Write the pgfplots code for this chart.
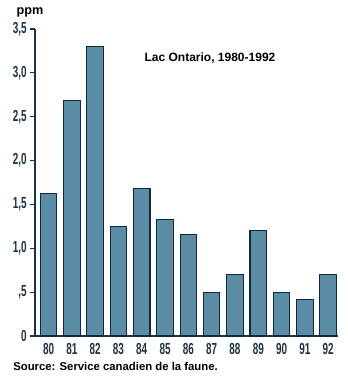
\documentclass[border=0pt]{standalone}
\usepackage{fontspec}
\setmainfont{Liberation Sans}
\newfontfamily\condfont[FakeStretch=0.62]{Liberation Sans}
\usepackage{pgfplots}
\pgfplotsset{compat=1.18}
\definecolor{barfill}{HTML}{5A8CA5}
\definecolor{bardraw}{HTML}{12293A}
\definecolor{axcol}{HTML}{1B3344}
\begin{document}
\begin{tikzpicture}
\useasboundingbox (0pt,0pt) rectangle (261pt,-284.25pt);
\begin{axis}[
  at={(26.25pt,-252pt)}, anchor=south west,
  scale only axis, width=227.25pt, height=230.25pt,
  xmin=-0.58, xmax=12.42, ymin=0, ymax=3.5,
  axis x line*=bottom, axis y line*=left,
  axis line style={axcol, line width=0.9pt, -},
  xtick={0,...,12}, xticklabels={80,81,82,83,84,85,86,87,88,89,90,91,92},
  ytick={0,0.5,1,1.5,2,2.5,3,3.5},
  yticklabels={0,{,5},{1,0},{1,5},{2,0},{2,5},{3,0},{3,5}},
  major x tick style={draw=none},
  major y tick style={axcol, line width=0.9pt},
  tick align=outside, major tick length=4pt,
  ticklabel style={font=\condfont\bfseries\fontsize{12}{13}\selectfont, text=axcol, inner sep=2pt},
  xticklabel style={yshift=1pt},
  ybar, bar width=12.4pt,
]
\addplot[fill=barfill, draw=bardraw, line width=0.8pt] coordinates {
(0,1.62) (1,2.68) (2,3.3) (3,1.25) (4,1.68) (5,1.33) (6,1.16)
(7,0.5) (8,0.7) (9,1.2) (10,0.5) (11,0.42) (12,0.7)};
\end{axis}
\node[font=\bfseries\fontsize{9.5}{11}\selectfont] at (22.5pt,-9pt) {ppm};
\node[font=\bfseries\fontsize{9}{11}\selectfont] at (157.5pt,-43.5pt) {Lac Ontario, 1980-1992};
\node[font=\bfseries\fontsize{8.5}{10}\selectfont, anchor=west, inner sep=0pt] at (9.75pt,-274.5pt) {Source: Service canadien de la faune.};
\end{tikzpicture}
\end{document}
